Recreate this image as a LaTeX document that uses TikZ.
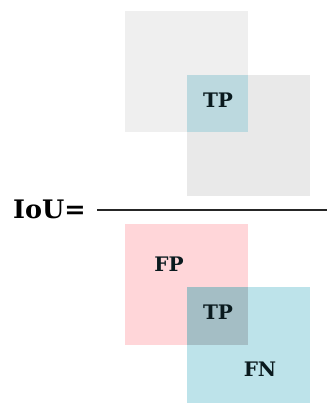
\documentclass[tikz,border=0pt]{standalone}
\usepackage{fontspec}
\setmainfont{DejaVu Serif}
\definecolor{greyA}{HTML}{EFEFEF}
\definecolor{greyB}{HTML}{E9E9E9}
\definecolor{overlapTop}{HTML}{BCD9DF}
\definecolor{predRed}{HTML}{FFD6D9}
\definecolor{gtBlue}{HTML}{BDE3EA}
\definecolor{overlapBot}{HTML}{A4BEC5}
\definecolor{ink}{HTML}{0A1A1E}
\tikzset{
  box/.style={inner sep=0pt, outer sep=0pt, minimum width=123pt, minimum height=121pt, anchor=north west},
  lbl/.style={font=\bfseries\fontsize{20}{20}\selectfont, text=ink, inner sep=0pt},
}
\begin{document}
\begin{tikzpicture}[x=1pt,y=-1pt]
  \useasboundingbox (0,0) rectangle (327,403);
  \begin{scope}
    \clip (0,0) rectangle (327,403);
    % numerator: union of the two boxes
    \node[box, fill=greyA] (uA) at (125,11) {};
    \node[box, fill=greyB] (uB) at (187,75) {};
    \fill[overlapTop] (uB.north west) rectangle (uA.south east);
    \node[lbl] (tpTop) at (218,100) {TP};
    % fraction bar and left-hand side
    \coordinate (barL) at (97,210);
    \coordinate (barR) at (327,210);
    \draw[line width=1.8pt, black!85] (barL) -- (barR);
    \node[font=\bfseries\fontsize{25.5}{25.5}\selectfont, text=black, anchor=base west, inner sep=0pt] (iou) at (13,218.5) {IoU=};
    % denominator: prediction and ground truth
    \node[box, fill=predRed] (pred) at (125,224) {};
    \node[box, fill=gtBlue] (gt) at (187,287) {};
    \fill[overlapBot] (gt.north west) rectangle (pred.south east);
    \node[lbl] (fp) at (169,264) {FP};
    \node[lbl] (tpBot) at (218,312) {TP};
    \node[lbl] (fn) at (260,369) {FN};
  \end{scope}
\end{tikzpicture}
\end{document}
